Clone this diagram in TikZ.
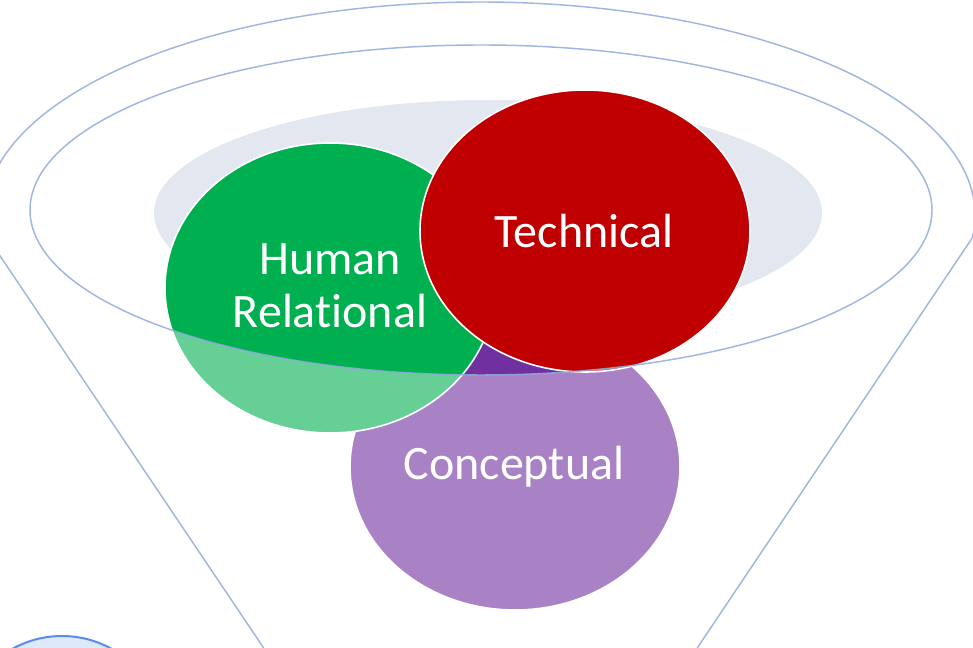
\documentclass[tikz,border=0pt]{standalone}
\usepackage{fontspec}
\setmainfont{Carlito}[Ligatures={NoCommon}]
\begin{document}
\begin{tikzpicture}[x=0.75pt,y=0.75pt]
  \definecolor{rim}{RGB}{143,170,219}
  \definecolor{disc}{RGB}{227,231,240}
  \definecolor{humangreen}{RGB}{0,176,80}
  \definecolor{techred}{RGB}{192,0,0}
  \definecolor{conceptpurple}{RGB}{112,48,160}
  \definecolor{lowblue}{RGB}{90,140,240}
  \definecolor{lowfill}{RGB}{222,233,252}
  \tikzset{
    blob/.style={draw=white, line width=1.2pt},
    rimline/.style={draw=rim, line width=1.1pt, draw opacity=0.85},
    caption/.style={text=white, font=\fontsize{36}{39.75}\selectfont, inner sep=0pt}
  }
  \useasboundingbox (0,0) rectangle (973,648);
  \clip (0,0) rectangle (973,648);

  % partial disc at the lower left edge
  \path[fill=lowfill, draw=lowblue, line width=1.5pt] (62,-90) circle [radius=102];

  % top surface of the funnel
  \path[fill=disc] (488,435) ellipse [x radius=334, y radius=113];

  % the three skill areas
  \path[blob, fill=conceptpurple] (515,181) ellipse [x radius=165, y radius=143];
  \coordinate (conceptual) at (515,181);
  \path[blob, fill=humangreen] (330,360) ellipse [x radius=165, y radius=145];
  \coordinate (human) at (330,360);
  \path[blob, fill=techred] (585,417) ellipse [x radius=165, y radius=141];
  \coordinate (technical) at (585,417);

  % translucent funnel body below the inner rim
  \path[fill=white, fill opacity=0.4, even odd rule]
    (263.7,0) -- (-12,410)
    arc [start angle=186.2, end angle=-6.2, x radius=495, y radius=213]
    -- (697.2,0) -- cycle
    (481,438) ellipse [x radius=451, y radius=165];

  % funnel outline
  \draw[rimline] (263.7,0) -- (-12,410)
    arc [start angle=186.2, end angle=-6.2, x radius=495, y radius=213]
    -- (697.2,0);
  \draw[rimline] (481,438) ellipse [x radius=451, y radius=165];

  % labels
  \node[caption, align=center, anchor=center] (humanlabel) at (330,362.5) {Human\\Relational};
  \node[caption, anchor=base] (techlabel) at (584,400) {Technical};
  \node[caption, anchor=base] (conceptlabel) at (514,168) {Conceptual};
\end{tikzpicture}
\end{document}
